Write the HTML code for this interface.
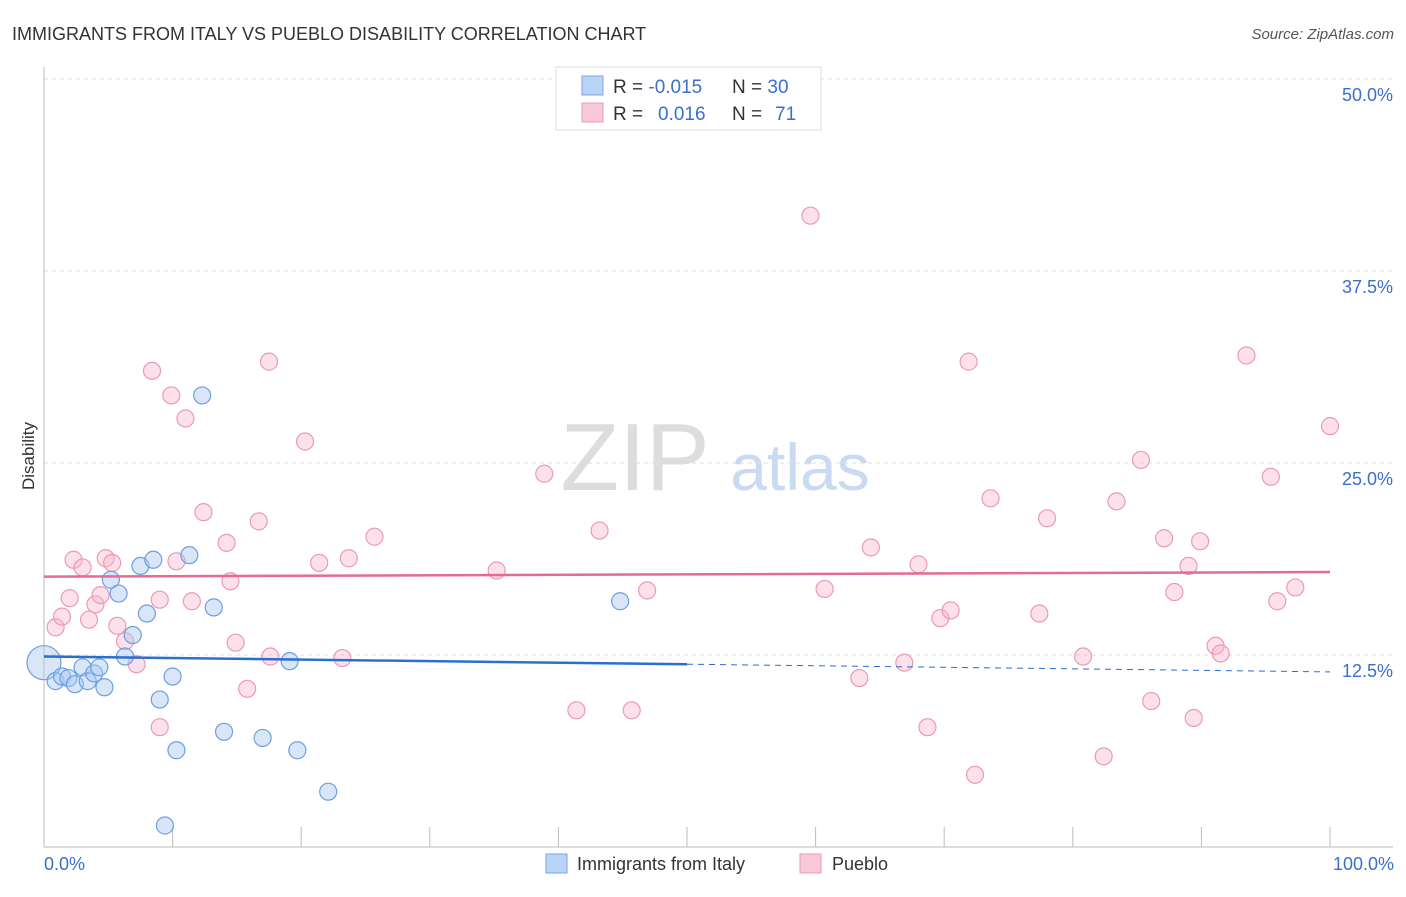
<!DOCTYPE html>
<html><head><meta charset="utf-8"><style>
body{margin:0;background:#fff;font-family:"Liberation Sans",sans-serif}
svg text{font-family:"Liberation Sans",sans-serif}
</style></head><body>
<svg id="chart" width="1406" height="892">
<text x="12" y="40" font-size="18" fill="#333">IMMIGRANTS FROM ITALY VS PUEBLO DISABILITY CORRELATION CHART</text>
<text x="1394" y="39" font-size="15" fill="#555" font-style="italic" text-anchor="end">Source: ZipAtlas.com</text>
<text x="635" y="490" font-size="96" fill="#ddd" font-family="Liberation Serif" text-anchor="middle">ZIP</text>
<text x="800" y="490" font-size="66" fill="#c9daf2" text-anchor="middle">atlas</text>
<g id="grid"></g><g id="axes"></g><g id="marks"></g>
<text transform="translate(34,456) rotate(-90)" font-size="17" fill="#333" text-anchor="middle">Disability</text>
<text x="44" y="870" font-size="18" fill="#3a70c8">0.0%</text>
<text x="1394" y="870" font-size="18" fill="#3a70c8" text-anchor="end">100.0%</text>
<g>
<rect x="556" y="67" width="265" height="63" fill="#fff" stroke="#ddd"/>
<rect x="582" y="76" width="21" height="19" fill="#b9d3f5" stroke="#7aa6e6"/>
<rect x="582" y="103" width="21" height="19" fill="#f9c9d7" stroke="#ec9bb6"/>
<text x="613" y="93" font-size="19" fill="#333">R = <tspan fill="#3a70c8">-0.015</tspan></text>
<text x="732" y="93" font-size="19" fill="#333">N = <tspan fill="#3a70c8">30</tspan></text>
<text x="613" y="120" font-size="19" fill="#333">R = <tspan fill="#3a70c8" x="658">0.016</tspan></text>
<text x="732" y="120" font-size="19" fill="#333">N = <tspan fill="#3a70c8" x="775">71</tspan></text>
</g>
<g>
<rect x="546" y="854" width="21" height="19" fill="#b9d3f5" stroke="#7aa6e6"/>
<text x="577" y="870" font-size="18" fill="#333">Immigrants from Italy</text>
<rect x="800" y="854" width="21" height="19" fill="#f9c9d7" stroke="#ec9bb6"/>
<text x="832" y="870" font-size="18" fill="#333">Pueblo</text>
</g>
</svg>
<script>
const yTicks=[12.5,25,37.5,50];
const yTickLabels=["12.5%","25.0%","37.5%","50.0%"];
const xTicks=[0,10,20,30,40,50,60,70,80,90,100];
const italyX=[0,0.9,1.4,1.9,2.4,3.0,3.4,3.9,4.3,4.7,5.2,5.8,6.3,6.9,7.5,8.0,8.5,9.0,9.4,10.0,10.3,11.3,12.3,13.2,14.0,17.0,19.1,19.7,22.1,44.8];
const italyY=[12.0,10.8,11.1,11.0,10.6,11.7,10.8,11.3,11.7,10.4,17.4,16.5,12.4,13.8,18.3,15.2,18.7,9.6,1.4,11.1,6.3,19.0,29.4,15.6,7.5,7.1,12.1,6.3,3.6,16.0];
const puebloX=[0.9,1.4,2.0,2.3,3.0,3.5,4.0,4.4,4.8,5.3,5.7,6.3,7.2,8.4,9.0,9.0,9.9,10.3,11.0,11.5,12.4,14.2,14.5,14.9,15.8,16.7,17.5,17.6,20.3,21.4,23.2,23.7,25.7,35.2,38.9,41.4,43.2,45.7,46.9,59.6,60.7,63.4,64.3,66.9,68.0,68.7,69.7,70.5,71.9,72.4,73.6,77.4,78.0,80.8,82.4,83.4,85.3,86.1,87.1,87.9,89.0,89.4,89.9,91.1,91.5,93.5,95.4,95.9,97.3,100];
const puebloY=[14.3,15.0,16.2,18.7,18.2,14.8,15.8,16.4,18.8,18.5,14.4,13.4,11.9,31.0,7.8,16.1,29.4,18.6,27.9,16.0,21.8,19.8,17.3,13.3,10.3,21.2,31.6,12.4,26.4,18.5,12.3,18.8,20.2,18.0,24.3,8.9,20.6,8.9,16.7,41.1,16.8,11.0,19.5,12.0,18.4,7.8,14.9,15.4,31.6,4.7,22.7,15.2,21.4,12.4,5.9,22.5,25.2,9.5,20.1,16.6,18.3,8.4,19.9,13.1,12.6,32.0,24.1,16.0,16.9,27.4];
const italyTrend=[12.4,11.4];
const puebloTrend=[17.6,17.9];
const NS="http://www.w3.org/2000/svg";
const X=v=>44+v*12.86, Y=v=>847-v*15.36;
function mk(t,a,p){const e=document.createElementNS(NS,t);for(const k in a)e.setAttribute(k,a[k]);document.getElementById(p).appendChild(e);return e;}
yTicks.forEach((t,i)=>{
 const l=mk('line',{x1:44,x2:1393,y1:Y(t),y2:Y(t),stroke:'#ddd','stroke-dasharray':'4,4'},'grid');
 
 
 const tx=mk('text',{x:1393,y:Y(t)+22,'font-size':18,fill:'#3a70c8','text-anchor':'end'},'grid');
 tx.textContent=yTickLabels[i];
 
 
});
const ax=mk('line',{x1:44,x2:1393,y1:847,y2:847,stroke:'#bbb'},'axes');


const ay=mk('line',{x1:44,x2:44,y1:67,y2:847,stroke:'#bbb'},'axes');


xTicks.forEach(t=>{
 const l=mk('line',{x1:X(t),x2:X(t),y1:827,y2:847,stroke:'#bbb'},'axes');
 
 
});
puebloX.forEach((x,i)=>{
 const c=mk('circle',{cx:X(x),cy:Y(puebloY[i]),r:8.5,fill:'rgba(247,180,202,0.4)',stroke:'#eb9ab5','stroke-width':1.2},'marks');
 
 
});
italyX.forEach((x,i)=>{
 const c=mk('circle',{cx:X(x),cy:Y(italyY[i]),r:i===0?17:8.5,fill:'rgba(168,200,240,0.45)',stroke:'#6d9fe0','stroke-width':1.2},'marks');
 
 
});
const it=v=>italyTrend[0]+(italyTrend[1]-italyTrend[0])*v/100;
const l1=mk('line',{x1:X(0),y1:Y(it(0)),x2:X(50),y2:Y(it(50)),stroke:'#2a6fd0','stroke-width':2.5},'marks');


const l2=mk('line',{x1:X(50),y1:Y(it(50)),x2:X(100),y2:Y(it(100)),stroke:'#2a6fd0','stroke-width':1,'stroke-dasharray':'6,5'},'marks');


const l3=mk('line',{x1:X(0),y1:Y(puebloTrend[0]),x2:X(100),y2:Y(puebloTrend[1]),stroke:'#e46a97','stroke-width':2.5},'marks');


</script>
</body></html>
